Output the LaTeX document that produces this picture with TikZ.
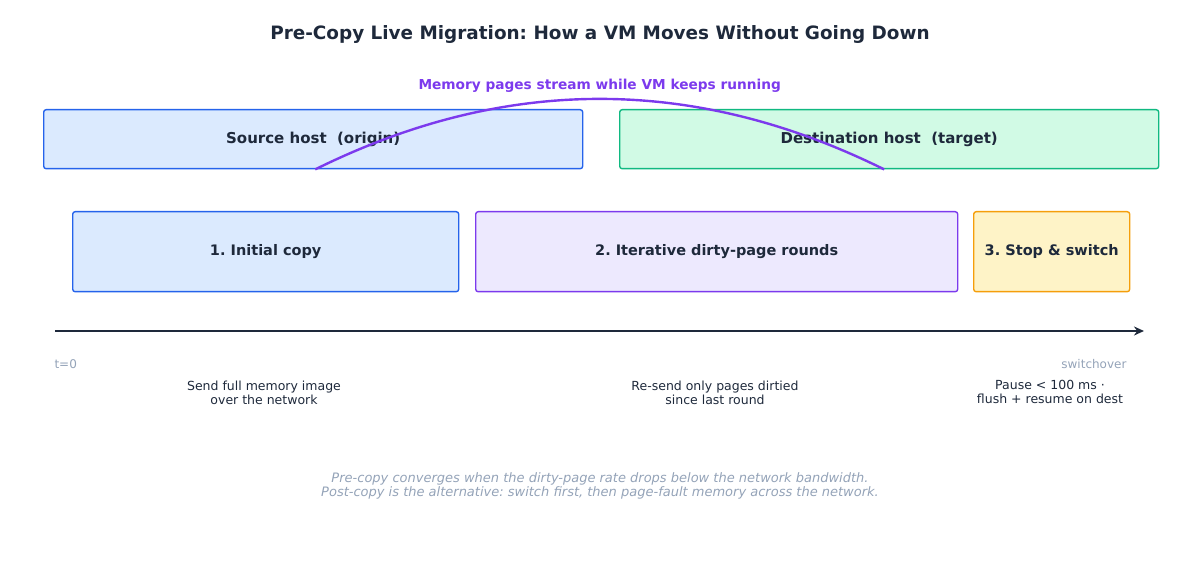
\documentclass[tikz,border=0pt]{standalone}
\usepackage{fontspec}
\setmainfont{DejaVu Sans}
\usepackage{tikz}
\usetikzlibrary{positioning, arrows.meta, calc}
\frenchspacing

\definecolor{ink}{HTML}{1E293B}
\definecolor{muted}{HTML}{94A3B8}
\definecolor{blueline}{HTML}{2563EB}
\definecolor{bluefill}{HTML}{DBEAFE}
\definecolor{greenline}{HTML}{10B981}
\definecolor{greenfill}{HTML}{D1FAE5}
\definecolor{violet}{HTML}{7C3AED}
\definecolor{violetfill}{HTML}{EDE9FE}
\definecolor{amberline}{HTML}{F59E0B}
\definecolor{amberfill}{HTML}{FEF3C7}

\begin{document}
\begin{tikzpicture}[x=1pt, y=-1pt]
        \tikzset{
            host/.style={
                    draw, rounded corners=2.5pt, line width=1.4pt, anchor=north west,
                    font=\fontsize{15}{17}\selectfont\bfseries, text=ink
                },
            phase/.style={
                    host, minimum height=80pt, font=\fontsize{14.5}{17}\selectfont\bfseries
                },
            note/.style={
                    font=\fontsize{12.5}{14}\selectfont, text=ink, align=center, anchor=north
                },
            tick label/.style={
                    font=\fontsize{12}{14}\selectfont, text=muted
                }
        }

        \useasboundingbox (0,0) rectangle (1200,569);

        \node[font=\fontsize{18.4}{21}\selectfont\bfseries, text=ink] (title) at (600,34) {Pre-Copy Live Migration: How a VM Moves Without Going Down};

        % hosts
        \node[host, draw=blueline, fill=bluefill, minimum width=539pt, minimum height=59pt] (src) at (43,109) {Source host\ \ (origin)};
        \node[host, draw=greenline, fill=greenfill, minimum width=539pt, minimum height=59pt] (dst) at (619,109) {Destination host\ \ (target)};

        \draw[violet, line width=2.4pt] ([xshift=2pt]src.south) .. controls +(190,-94) and +(-190,-94) .. ([xshift=-5pt]dst.south)
            node[pos=0.5, above=2pt, font=\fontsize{13.7}{16}\selectfont\bfseries, text=violet] (streamlbl) {Memory pages stream while VM keeps running};

        % phases
        \node[phase, draw=blueline, fill=bluefill, minimum width=386pt] (initial) at (72,211) {1. Initial copy};
        \node[phase, draw=violet, fill=violetfill, minimum width=482pt] (rounds) at (475,211) {2. Iterative dirty-page rounds};
        \node[phase, draw=amberline, fill=amberfill, minimum width=156pt] (stop) at (973,211) {3. Stop \& switch};

        % timeline
        \coordinate (tstart) at (55,331);
        \coordinate (tend) at (1144,331);
        \draw[ink, line width=1.6pt, -{Stealth[length=10pt, width=9pt]}] (tstart) -- (tend);
        \node[tick label, anchor=west] (tzero) at (51,364) {t=0};
        \node[tick label, anchor=east] (tswitch) at (1130,364) {switchover};

        \node[note] (initialnote) at (264,377) {Send full memory image\\over the network};
        \node[note] (roundsnote) at (715,377) {Re-send only pages dirtied\\since last round};
        \node[note] (stopnote) at (1050,377) {Pause < 100 ms ·\\flush + resume on dest};

        \node[font=\fontsize{13}{14}\selectfont\itshape, text=muted, align=center] (footer) at (600,485.5)
            {Pre-copy converges when the dirty-page rate drops below the network bandwidth.\\Post-copy is the alternative: switch first, then page-fault memory across the network.};
    \end{tikzpicture}
\end{document}
